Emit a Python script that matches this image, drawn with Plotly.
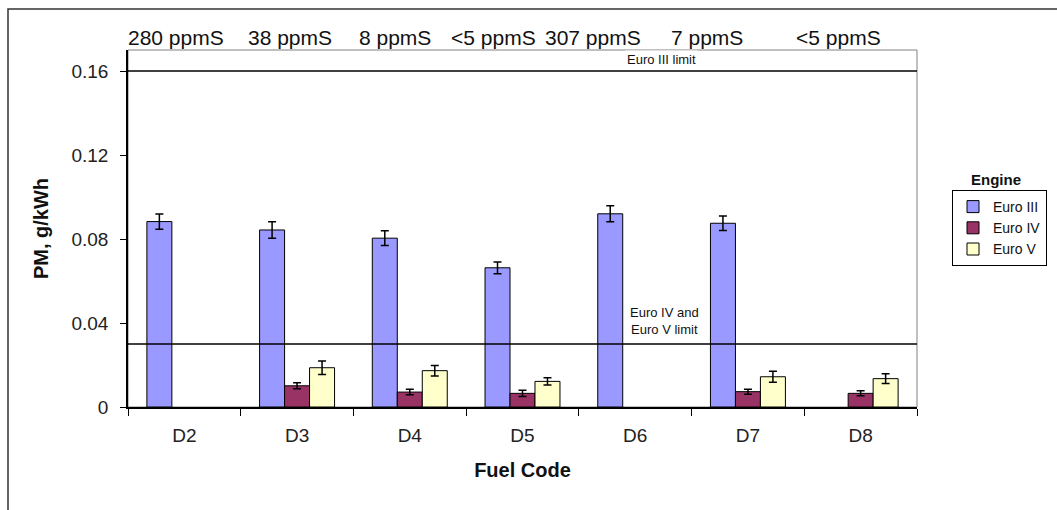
import plotly.graph_objects as go

fuel_codes = ["D2", "D3", "D4", "D5", "D6", "D7", "D8"]
sulfur_labels = ["280 ppmS", "38 ppmS", "8 ppmS", "<5 ppmS", "307 ppmS", "7 ppmS", "<5 ppmS"]

euro3 = [0.0883, 0.0843, 0.0804, 0.0663, 0.0920, 0.0875, None]
euro3_err = [0.0036, 0.0039, 0.0035, 0.0028, 0.0038, 0.0035, None]
euro4 = [None, 0.0101, 0.0071, 0.0065, None, 0.0073, 0.0065]
euro4_err = [None, 0.0014, 0.0013, 0.0015, None, 0.0012, 0.0012]
euro5 = [None, 0.0187, 0.0173, 0.0122, None, 0.0144, 0.0135]
euro5_err = [None, 0.0032, 0.0025, 0.0017, None, 0.0026, 0.0023]

euro3_limit = 0.16
euro45_limit = 0.03

y_ticks = [0, 0.04, 0.08, 0.12, 0.16]
y_ticktext = ["0", "0.04", "0.08", "0.12", "0.16"]

FONT = "Liberation Sans, Arial, sans-serif"

fig = go.Figure()
series = [
    ("Euro III", euro3, euro3_err, "#9999FF"),
    ("Euro IV", euro4, euro4_err, "#993366"),
    ("Euro V", euro5, euro5_err, "#FFFFCC"),
]
for name, vals, errs, col in series:
    fig.add_trace(go.Bar(
        name=name, x=fuel_codes, y=vals,
        marker=dict(color=col, line=dict(color="#000000", width=1)),
        error_y=dict(type="data", array=errs, visible=True,
                     color="#000000", thickness=1.5, width=4),
    ))

W, H = 1057, 510
L, R, T, B = 128, 140, 50, 103
pw, ph = W - L - R, H - T - B

def px(xp):
    return (xp - L) / pw

def py(yp):
    return (H - B - yp) / ph

shapes = [
    dict(type="rect", xref="paper", yref="paper", x0=0, x1=1, y0=0, y1=1,
         line=dict(color="#808080", width=1), layer="below"),
    dict(type="rect", xref="paper", yref="paper", x0=px(8), x1=px(1070),
         y0=py(530), y1=py(9), line=dict(color="#333333", width=1.5), layer="below"),
    dict(type="line", xref="paper", yref="y", x0=0, x1=1, y0=euro3_limit, y1=euro3_limit,
         line=dict(color="#000000", width=1.5)),
    dict(type="line", xref="paper", yref="y", x0=0, x1=1, y0=euro45_limit, y1=euro45_limit,
         line=dict(color="#000000", width=1.5)),
]

annotations = []
label_centers = [176, 290, 395, 493, 593, 707, 838]
for lab, cx in zip(sulfur_labels, label_centers):
    annotations.append(dict(text=lab, xref="paper", yref="paper", x=px(cx), y=py(38),
                            xanchor="center", yanchor="middle", showarrow=False,
                            font=dict(family=FONT, size=21, color="#111111")))
annotations.append(dict(text="Euro III limit", xref="paper", yref="paper",
                        x=px(661), y=py(59), xanchor="center", yanchor="middle",
                        showarrow=False, bgcolor="#FFFFFF",
                        font=dict(family=FONT, size=13, color="#111111")))
annotations.append(dict(text="Euro IV and<br>Euro V limit", xref="paper", yref="paper",
                        x=px(664), y=py(321), xanchor="center", yanchor="middle",
                        showarrow=False, bgcolor="#FFFFFF",
                        font=dict(family=FONT, size=13, color="#111111")))
annotations.append(dict(text="<b>Engine</b>", xref="paper", yref="paper",
                        x=px(996), y=py(179), xanchor="center", yanchor="middle",
                        showarrow=False,
                        font=dict(family=FONT, size=15, color="#111111")))

fig.update_layout(
    width=W, height=H,
    margin=dict(l=L, r=R, t=T, b=B, pad=0, autoexpand=False),
    paper_bgcolor="#FFFFFF", plot_bgcolor="#FFFFFF",
    barmode="group", bargap=0.335, bargroupgap=0,
    font=dict(family=FONT, color="#222222"),
    shapes=shapes, annotations=annotations,
    legend=dict(xref="container", yref="container",
                x=952 / W, y=1 - 190 / H, xanchor="left", yanchor="top",
                bordercolor="#000000", borderwidth=1, bgcolor="#FFFFFF",
                font=dict(family=FONT, size=14, color="#111111"),
                tracegroupgap=0, itemwidth=30),
    xaxis=dict(
        automargin=False,
        showgrid=False, showline=True, linecolor="#000000", linewidth=1.5,
        ticks="outside", tickson="boundaries", ticklen=7, tickcolor="#000000",
        tickfont=dict(family=FONT, size=19, color="#222222"),
        ticklabelstandoff=10,
        title=dict(text="<b>Fuel Code</b>", font=dict(family=FONT, size=20, color="#111111"),
                   standoff=18),
    ),
    yaxis=dict(
        automargin=False,
        range=[0, 0.17], showgrid=False, zeroline=False,
        showline=True, linecolor="#000000", linewidth=1.5,
        tickvals=y_ticks, ticktext=y_ticktext,
        ticks="outside", ticklen=6, tickcolor="#000000",
        tickfont=dict(family=FONT, size=19, color="#222222"),
        ticklabelstandoff=8,
        title=dict(text="<b>PM, g/kWh</b>", font=dict(family=FONT, size=20, color="#111111"),
                   standoff=17),
    ),
)

fig.write_html("out.html", config={"displayModeBar": False},
               post_script="document.body.style.margin='0';")
